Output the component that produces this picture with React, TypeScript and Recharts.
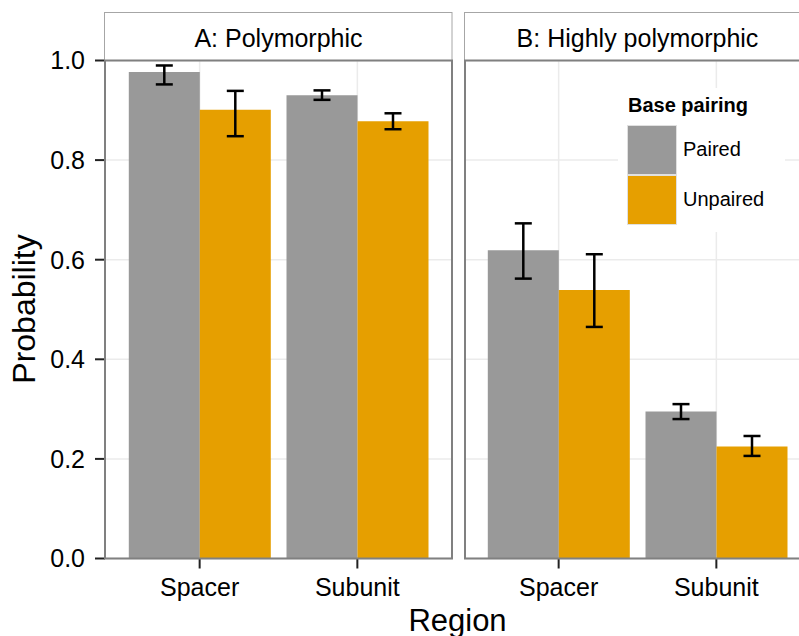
import React from 'react';
import { BarChart, Bar, XAxis, YAxis, CartesianGrid, ErrorBar, Legend } from 'recharts';

// categories and facets
const regions = ['Spacer', 'Subunit'];
const facets = ['A: Polymorphic', 'B: Highly polymorphic'];
const seriesNames = ['Paired', 'Unpaired'];

// A: Polymorphic
const pairedA = [0.977, 0.93];
const pairedALow = [0.952, 0.921];
const pairedAHigh = [0.99, 0.94];
const unpairedA = [0.901, 0.878];
const unpairedALow = [0.848, 0.862];
const unpairedAHigh = [0.939, 0.894];

// B: Highly polymorphic
const pairedB = [0.619, 0.295];
const pairedBLow = [0.562, 0.28];
const pairedBHigh = [0.673, 0.31];
const unpairedB = [0.539, 0.225];
const unpairedBLow = [0.465, 0.206];
const unpairedBHigh = [0.611, 0.246];

const yTicks = [0, 0.2, 0.4, 0.6, 0.8, 1.0];
const minorTicks = [0.1, 0.3, 0.5, 0.7, 0.9];

const FONT = '"Liberation Sans", Arial, Helvetica, sans-serif';
const GREY = '#999999';
const ORANGE = '#E69F00';
const seriesColors = [GREY, ORANGE];

const H = 636;
const TOP = 60.5;
const XAXIS_H = 77.5;

function buildRows(p, pLo, pHi, u, uLo, uHi) {
  return regions.map((region, i) => ({
    region,
    paired: p[i],
    unpaired: u[i],
    pairedErr: [p[i] - pLo[i], pHi[i] - p[i]],
    unpairedErr: [u[i] - uLo[i], uHi[i] - u[i]],
  }));
}

const rowsA = buildRows(pairedA, pairedALow, pairedAHigh, unpairedA, unpairedALow, unpairedAHigh);
const rowsB = buildRows(pairedB, pairedBLow, pairedBHigh, unpairedB, unpairedBLow, unpairedBHigh);

const LegendBox = () => (
  <div style={{ position: 'relative', width: 167, height: 144, background: '#fff', fontFamily: FONT }}>
    <div style={{ position: 'absolute', left: 10, top: 6, fontSize: 20, fontWeight: 'bold', color: '#000', whiteSpace: 'nowrap' }}>
      Base pairing
    </div>
    {seriesNames.map((name, i) => (
      <div key={name}>
        <div
          style={{
            position: 'absolute',
            left: 9,
            top: 36.5 + i * 50,
            width: 50,
            height: 50,
            background: seriesColors[i],
            boxSizing: 'border-box',
            border: '1px solid #e0e0e0',
          }}
        />
        <div style={{ position: 'absolute', left: 65, top: 49 + i * 50, fontSize: 20, lineHeight: '24px', color: '#000' }}>
          {name}
        </div>
      </div>
    ))}
  </div>
);

const Panel = ({ rows, width, showY, withLegend }) => (
  <BarChart
    width={width}
    height={H}
    data={rows}
    margin={{ top: TOP, right: 0, bottom: 0, left: 0 }}
    barGap={0}
    barSize={71}
  >
    <YAxis yAxisId="minor" hide domain={[0, 1]} ticks={minorTicks} />
    <CartesianGrid yAxisId="minor" vertical={false} stroke="#f5f5f5" strokeWidth={1.5} />
    <CartesianGrid stroke="#ebebeb" strokeWidth={1.5} />
    <XAxis
      dataKey="region"
      interval={0}
      height={XAXIS_H}
      padding={{ left: 15.8, right: 15.8 }}
      axisLine={false}
      tickSize={10}
      tickMargin={10}
      tickLine={{ stroke: '#222', strokeWidth: 2 }}
      tick={{ fontSize: 25, fill: '#000', fontFamily: FONT }}
    />
    <YAxis
      hide={!showY}
      width={105}
      domain={[0, 1]}
      ticks={yTicks}
      interval={0}
      axisLine={false}
      tickSize={10}
      tickMargin={10}
      tickLine={{ stroke: '#222', strokeWidth: 2 }}
      tickFormatter={(v) => v.toFixed(1)}
      tick={{ fontSize: 25, fill: '#000', fontFamily: FONT }}
    />
    <Bar dataKey="paired" name={seriesNames[0]} fill={GREY} isAnimationActive={false}>
      <ErrorBar dataKey="pairedErr" direction="y" width={8.5} stroke="#000" strokeWidth={2.5} />
    </Bar>
    <Bar dataKey="unpaired" name={seriesNames[1]} fill={ORANGE} isAnimationActive={false}>
      <ErrorBar dataKey="unpairedErr" direction="y" width={8.5} stroke="#000" strokeWidth={2.5} />
    </Bar>
    {withLegend && (
      <Legend
        layout="vertical"
        align="center"
        verticalAlign="middle"
        content={() => <LegendBox />}
        wrapperStyle={{ left: 154, top: 88, width: 167, height: 144 }}
      />
    )}
  </BarChart>
);

export default function App() {
  return (
    <div
      style={{
        position: 'absolute',
        left: 0,
        top: 0,
        width: 799,
        height: H,
        overflow: 'hidden',
        background: '#fff',
        fontFamily: FONT,
      }}
    >
      <div style={{ position: 'absolute', left: 0, top: 0 }}>
        <Panel rows={rowsA} width={452} showY withLegend={false} />
      </div>
      <div style={{ position: 'absolute', left: 464, top: 0 }}>
        <Panel rows={rowsB} width={347} showY={false} withLegend />
      </div>
      <svg
        width={799}
        height={H}
        style={{ position: 'absolute', left: 0, top: 0, pointerEvents: 'none' }}
        fontFamily={FONT}
      >
        {/* facet strips */}
        <rect x={104.5} y={12.5} width={347.5} height={48} fill="#fff" stroke="#a6a6a6" strokeWidth={1} />
        <rect x={464.5} y={12.5} width={347.5} height={48} fill="#fff" stroke="#a6a6a6" strokeWidth={1} />
        <text x={278.5} y={46.5} textAnchor="middle" fontSize={25} fill="#000">{facets[0]}</text>
        <text x={637.5} y={46.5} textAnchor="middle" fontSize={25} fill="#000">{facets[1]}</text>
        {/* panel borders */}
        <rect x={105} y={TOP} width={347} height={498} fill="none" stroke="#808080" strokeWidth={2} />
        <rect x={465} y={TOP} width={347} height={498} fill="none" stroke="#808080" strokeWidth={2} />
        {/* axis titles */}
        <text x={457.5} y={631} textAnchor="middle" fontSize={31} fill="#000">Region</text>
        <text x={35} y={309} textAnchor="middle" fontSize={32} fill="#000" transform="rotate(-90 35 309)">
          Probability
        </text>
      </svg>
    </div>
  );
}
